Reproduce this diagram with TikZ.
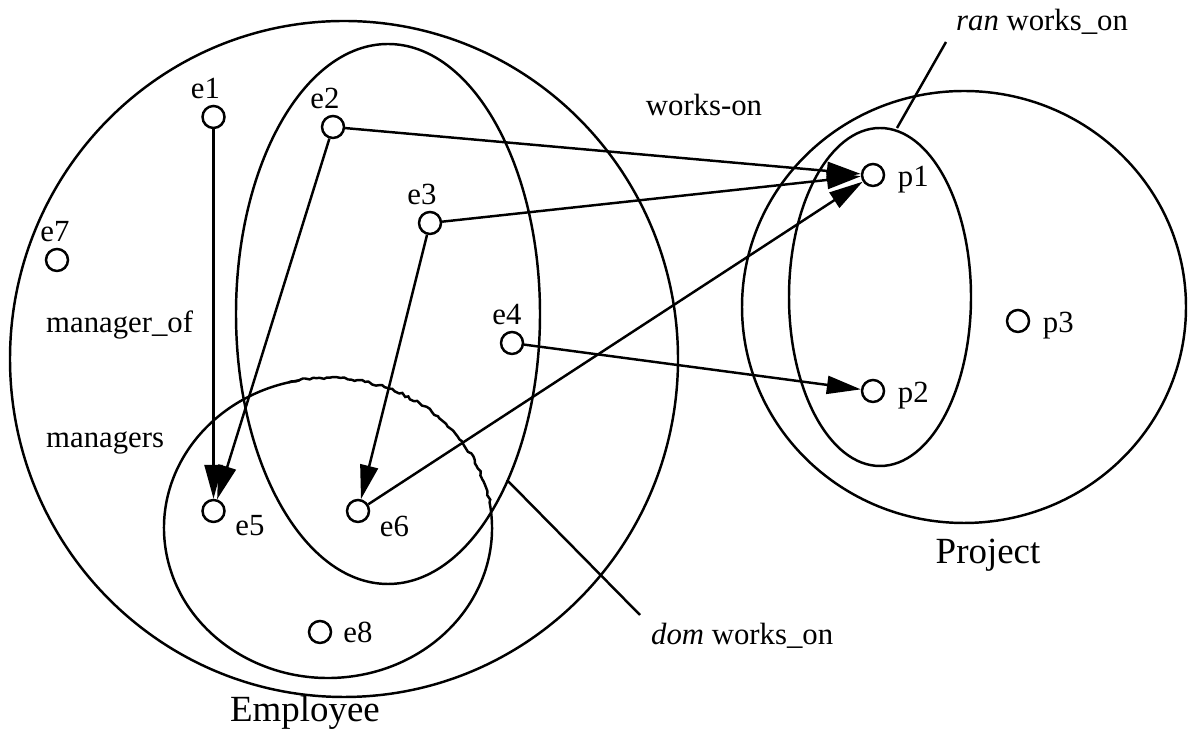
\documentclass[tikz,border=0pt]{standalone}
\usepackage{fontspec}
\setmainfont{Liberation Serif}
\usetikzlibrary{positioning,calc}
\usetikzlibrary{arrows.meta,decorations.pathmorphing}
\tikzset{
	v/.style={circle,draw=black,fill=white,line width=1.4pt,inner sep=0pt,minimum size=0.44cm},
	set/.style={draw=black,line width=1.4pt},
	arr/.style={draw=black,line width=1.4pt,-{Triangle[length=0.68cm,width=0.36cm]}},
	lead/.style={draw=black,line width=1.4pt},
	lbl/.style={font=\fontsize{17.5}{21}\selectfont},
	big/.style={font=\fontsize{21}{25}\selectfont},
}

\begin{document}
\begin{tikzpicture}
	\useasboundingbox (0,0) rectangle (23.84,14.70);
	% sets
	\coordinate (emp) at (6.88,7.52);
	\coordinate (dom) at (7.76,8.42);
	\coordinate (mgr) at (6.56,4.14);
	\coordinate (proj) at (19.28,8.56);
	\coordinate (ran) at (17.60,8.76);
	\draw[set] (emp) ellipse [x radius=6.68,y radius=6.76];
	\draw[set] (dom) ellipse [x radius=3.04,y radius=5.40];
	\draw[set] (proj) ellipse [x radius=4.44,y radius=4.32];
	\draw[set] (ran) ellipse [x radius=1.82,y radius=3.38];
	\draw[set] (mgr) ++(10:3.28 and 3.00) arc[start angle=10,end angle=-260,x radius=3.28,y radius=3.00];
	\pgfmathsetseed{7}
	\draw[set,decorate,decoration={random steps,segment length=2pt,amplitude=0.7pt}]
		(mgr) ++(104:3.28 and 3.00) arc[start angle=104,end angle=10,x radius=3.28,y radius=3.00];
	% elements
	\node[v,label={[lbl,xshift=-0.16cm,label distance=0pt]above:e1}] (e1) at (4.27,12.36) {};
	\node[v,label={[lbl,xshift=-0.16cm,label distance=0pt]above:e2}] (e2) at (6.66,12.16) {};
	\node[v,label={[lbl,xshift=-0.16cm,label distance=0pt]above:e3}] (e3) at (8.60,10.24) {};
	\node[v,label={[lbl,xshift=-0.10cm,label distance=0pt]above:e4}] (e4) at (10.24,7.84) {};
	\node[v,label={[lbl,yshift=-0.3cm,label distance=0.07cm]right:e5}] (e5) at (4.27,4.48) {};
	\node[v,label={[lbl,yshift=-0.3cm,label distance=0.07cm]right:e6}] (e6) at (7.16,4.48) {};
	\node[v,label={[lbl,xshift=-0.04cm,label distance=0pt]above:e7}] (e7) at (1.14,9.50) {};
	\node[v,label={[lbl,label distance=0.1cm]right:e8}] (e8) at (6.40,2.06) {};
	\node[v,label={[lbl,yshift=-0.1cm,label distance=0.13cm]right:p1}] (p1) at (17.46,11.20) {};
	\node[v,label={[lbl,yshift=-0.1cm,label distance=0.13cm]right:p2}] (p2) at (17.46,6.88) {};
	\node[v,label={[lbl,yshift=-0.1cm,label distance=0.13cm]right:p3}] (p3) at (20.36,8.28) {};
	% texts
	\node[lbl] (workson) at (14.08,12.60) {works-on};
	\node[lbl,anchor=west] (mgrof) at (0.80,8.20) {manager\_of};
	\node[lbl,anchor=west] (mgrs) at (0.80,5.84) {managers};
	\node[big] (emplbl) at (6.10,0.44) {Employee};
	\node[big] (projlbl) at (19.76,3.60) {Project};
	\node[lbl,anchor=west] (ranlbl) at (19.00,14.26) {\textit{ran} works\_on};
	\node[lbl,anchor=west] (domlbl) at (12.90,1.98) {\textit{dom} works\_on};
	% leaders
	\coordinate (ranfoot) at (17.94,12.14);
	\coordinate (ranhead) at (18.92,13.86);
	\coordinate (domfoot) at (10.14,5.10);
	\coordinate (domhead) at (12.80,2.40);
	\draw[lead] (ranfoot) -- (ranhead);
	\draw[lead] (domfoot) -- (domhead);
	% works-on and manager_of
	\draw[arr] (e1) -- (e5);
	\draw[arr] (e2) -- (e5);
	\draw[arr] (e2) -- (p1);
	\draw[arr] (e3) -- (p1);
	\draw[arr] (e3) -- (e6);
	\draw[arr] (e4) -- (p2);
	\draw[arr] (e6) -- (p1);
\end{tikzpicture}
\end{document}
